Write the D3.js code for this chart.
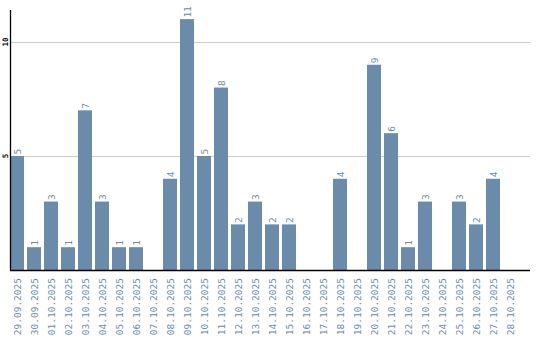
<!DOCTYPE html>
<html><head><meta charset="utf-8">
<script src="https://cdn.jsdelivr.net/npm/d3@7"></script>
<style>body{margin:0;background:#fff}svg{display:block}</style>
</head><body>
<svg id="c" width="540" height="340"></svg>
<script>
const dates = ["29.09.2025","30.09.2025","01.10.2025","02.10.2025","03.10.2025","04.10.2025","05.10.2025","06.10.2025","07.10.2025","08.10.2025","09.10.2025","10.10.2025","11.10.2025","12.10.2025","13.10.2025","14.10.2025","15.10.2025","16.10.2025","17.10.2025","18.10.2025","19.10.2025","20.10.2025","21.10.2025","22.10.2025","23.10.2025","24.10.2025","25.10.2025","26.10.2025","27.10.2025","28.10.2025"];
const counts = [5,1,3,1,7,3,1,1,0,4,11,5,8,2,3,2,2,0,0,4,0,9,6,1,3,0,3,2,4,0];
const yTicks = [5,10];

(function(){
const svg = d3.select("#c");
const mLeft = 10, mRight = 517, mTop = 10, mBottom = 270, axisEnd = 530;
const color = "#6b8bab";
const font = "'DejaVu Sans Mono', monospace";

const x = d3.scaleBand().domain(dates).range([mLeft, mRight]).paddingInner(3/17).paddingOuter(0).align(0);
const y = d3.scaleLinear().domain([0, 11.4]).range([mBottom, mTop]);

svg.selectAll("line.grid").data(yTicks).join("line")
  .attr("x1", mLeft).attr("x2", axisEnd)
  .attr("y1", d => Math.round(y(d)) + 0.5).attr("y2", d => Math.round(y(d)) + 0.5)
  .attr("stroke", "#cccccc").attr("stroke-width", 1);

const items = counts.map((v,i)=>({v, d: dates[i]})).filter(o=>o.v>0);

svg.selectAll("rect.bar").data(items).join("rect")
  .attr("x", o => x(o.d)).attr("width", x.bandwidth())
  .attr("y", o => y(o.v)).attr("height", o => mBottom - y(o.v))
  .attr("fill", color);

svg.selectAll("text.val").data(items).join("text")
  .attr("transform", o => `translate(${x(o.d) + x.bandwidth()/2 + 3.5},${y(o.v) - 1.5}) rotate(-90)`)
  .attr("fill", color).attr("font-family", font).attr("font-size", "9.5px")
  .text(o => o.v);

svg.append("line").attr("x1", mLeft + 0.5).attr("x2", mLeft + 0.5).attr("y1", mTop).attr("y2", mBottom)
  .attr("stroke", "#000").attr("stroke-width", 1.3);
svg.append("line").attr("x1", mLeft).attr("x2", axisEnd).attr("y1", mBottom + 0.5).attr("y2", mBottom + 0.5)
  .attr("stroke", "#000").attr("stroke-width", 1.3);

svg.selectAll("text.yt").data(yTicks).join("text")
  .attr("transform", d => `translate(8,${y(d)}) rotate(-90)`)
  .attr("text-anchor", "middle").attr("font-family", font).attr("font-size", "7.5px").attr("font-weight", "bold")
  .attr("fill", "#000").text(d => d);

svg.selectAll("text.xl").data(dates).join("text")
  .attr("transform", d => `translate(${x(d) + x.bandwidth()/2 + 3.5},${mBottom + 8}) rotate(-90)`)
  .attr("text-anchor", "end").attr("font-family", font).attr("font-size", "9.5px")
  .attr("fill", color).text(d => d);
})();
</script>
</body></html>
